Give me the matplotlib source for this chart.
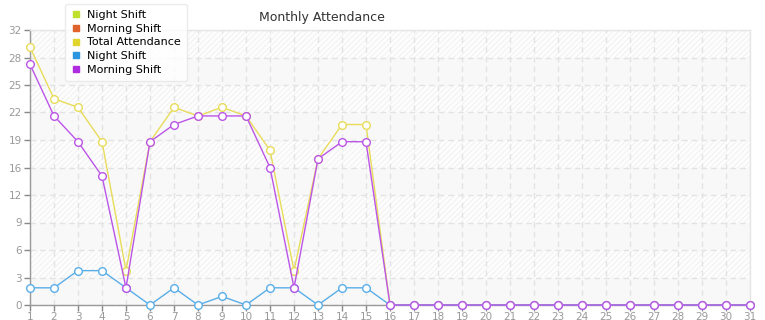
import numpy as np
import matplotlib
matplotlib.use("Agg")
import matplotlib.pyplot as plt
from matplotlib.lines import Line2D

plt.rcParams['font.family'] = ['DejaVu Sans']
plt.rcParams['hatch.linewidth'] = 0.6

days = list(range(1, 32))
total_attendance = [30, 24, 23, 19, 4, 19, 23, 22, 23, 22, 18, 4, 17, 21, 21] + [0] * 16
night_shift = [2, 2, 4, 4, 2, 0, 2, 0, 1, 0, 2, 2, 0, 2, 2] + [0] * 16
morning_shift = [28, 22, 19, 15, 2, 19, 21, 22, 22, 22, 16, 2, 17, 19, 19] + [0] * 16

legend_labels = ["Night Shift", "Morning Shift", "Total Attendance", "Night Shift", "Morning Shift"]
legend_colors = ["#bfe02c", "#e0622c", "#e0d52c", "#2c95e0", "#b02ce0"]

y_ticks = [3.2 * i for i in range(11)]
y_labels = [str(int(np.floor(v + 1e-9))) for v in y_ticks]

W, H = 765, 320
fig = plt.figure(figsize=(W / 100, H / 100), dpi=100)
ax = fig.add_axes([30 / W, 15 / H, 720 / W, 275 / H])
ax.set_facecolor("white")

# alternating bands: plain grey / hatched
for i in range(10):
    lo, hi = y_ticks[i], y_ticks[i + 1]
    if i % 2 == 0:
        ax.axhspan(lo, hi, facecolor="#f8f8f8", edgecolor="none", zorder=0)
    else:
        ax.axhspan(lo, hi, facecolor="#fdfdfd", edgecolor="#efefef", hatch="//////",
                   linewidth=0, zorder=0)

ax.grid(True, color="#e3e3e3", linestyle=(0, (4, 3)), linewidth=1, zorder=1)

series = [(total_attendance, "#e8dc5a"), (night_shift, "#5aaee8"), (morning_shift, "#bb55e8")]
for vals, col in series:
    ax.plot(days, vals, color=col, lw=1, marker="o", ms=5.5, mfc="white",
            mec=col, mew=1, zorder=3, clip_on=False)

ax.set_xlim(1, 31)
ax.set_ylim(0, 32)
ax.set_xticks(days)
ax.set_xticklabels([str(d) for d in days])
ax.set_yticks(y_ticks)
ax.set_yticklabels(y_labels)
ax.tick_params(axis="both", colors="#888888", labelcolor="#999999", labelsize=7.5,
               length=4, width=1)
ax.tick_params(axis="y", pad=2)
ax.tick_params(axis="x", pad=1)

for side in ["left", "bottom"]:
    ax.spines[side].set_color("#999999")
    ax.spines[side].set_linewidth(1)
for side in ["top", "right"]:
    ax.spines[side].set_color("#e6e6e6")
    ax.spines[side].set_linewidth(1)

fig.text(322 / W, 1 - 17 / H, "Monthly Attendance", ha="center", va="center",
         fontsize=9, color="#333333")

handles = [Line2D([], [], linestyle="none", marker="s", ms=4.5, color=c) for c in legend_colors]
leg = fig.legend(handles, legend_labels, loc="upper left",
                 bbox_to_anchor=(65 / W, 1 - 4 / H), fontsize=8, frameon=True,
                 fancybox=True, shadow=False, handlelength=0.8, handletextpad=0.6,
                 labelspacing=0.33, borderpad=0.55, borderaxespad=0)
leg.get_frame().set_edgecolor("#e6e6e6")
leg.get_frame().set_linewidth(1)
leg.set_zorder(10)

fig.savefig("out.png", dpi=100)
